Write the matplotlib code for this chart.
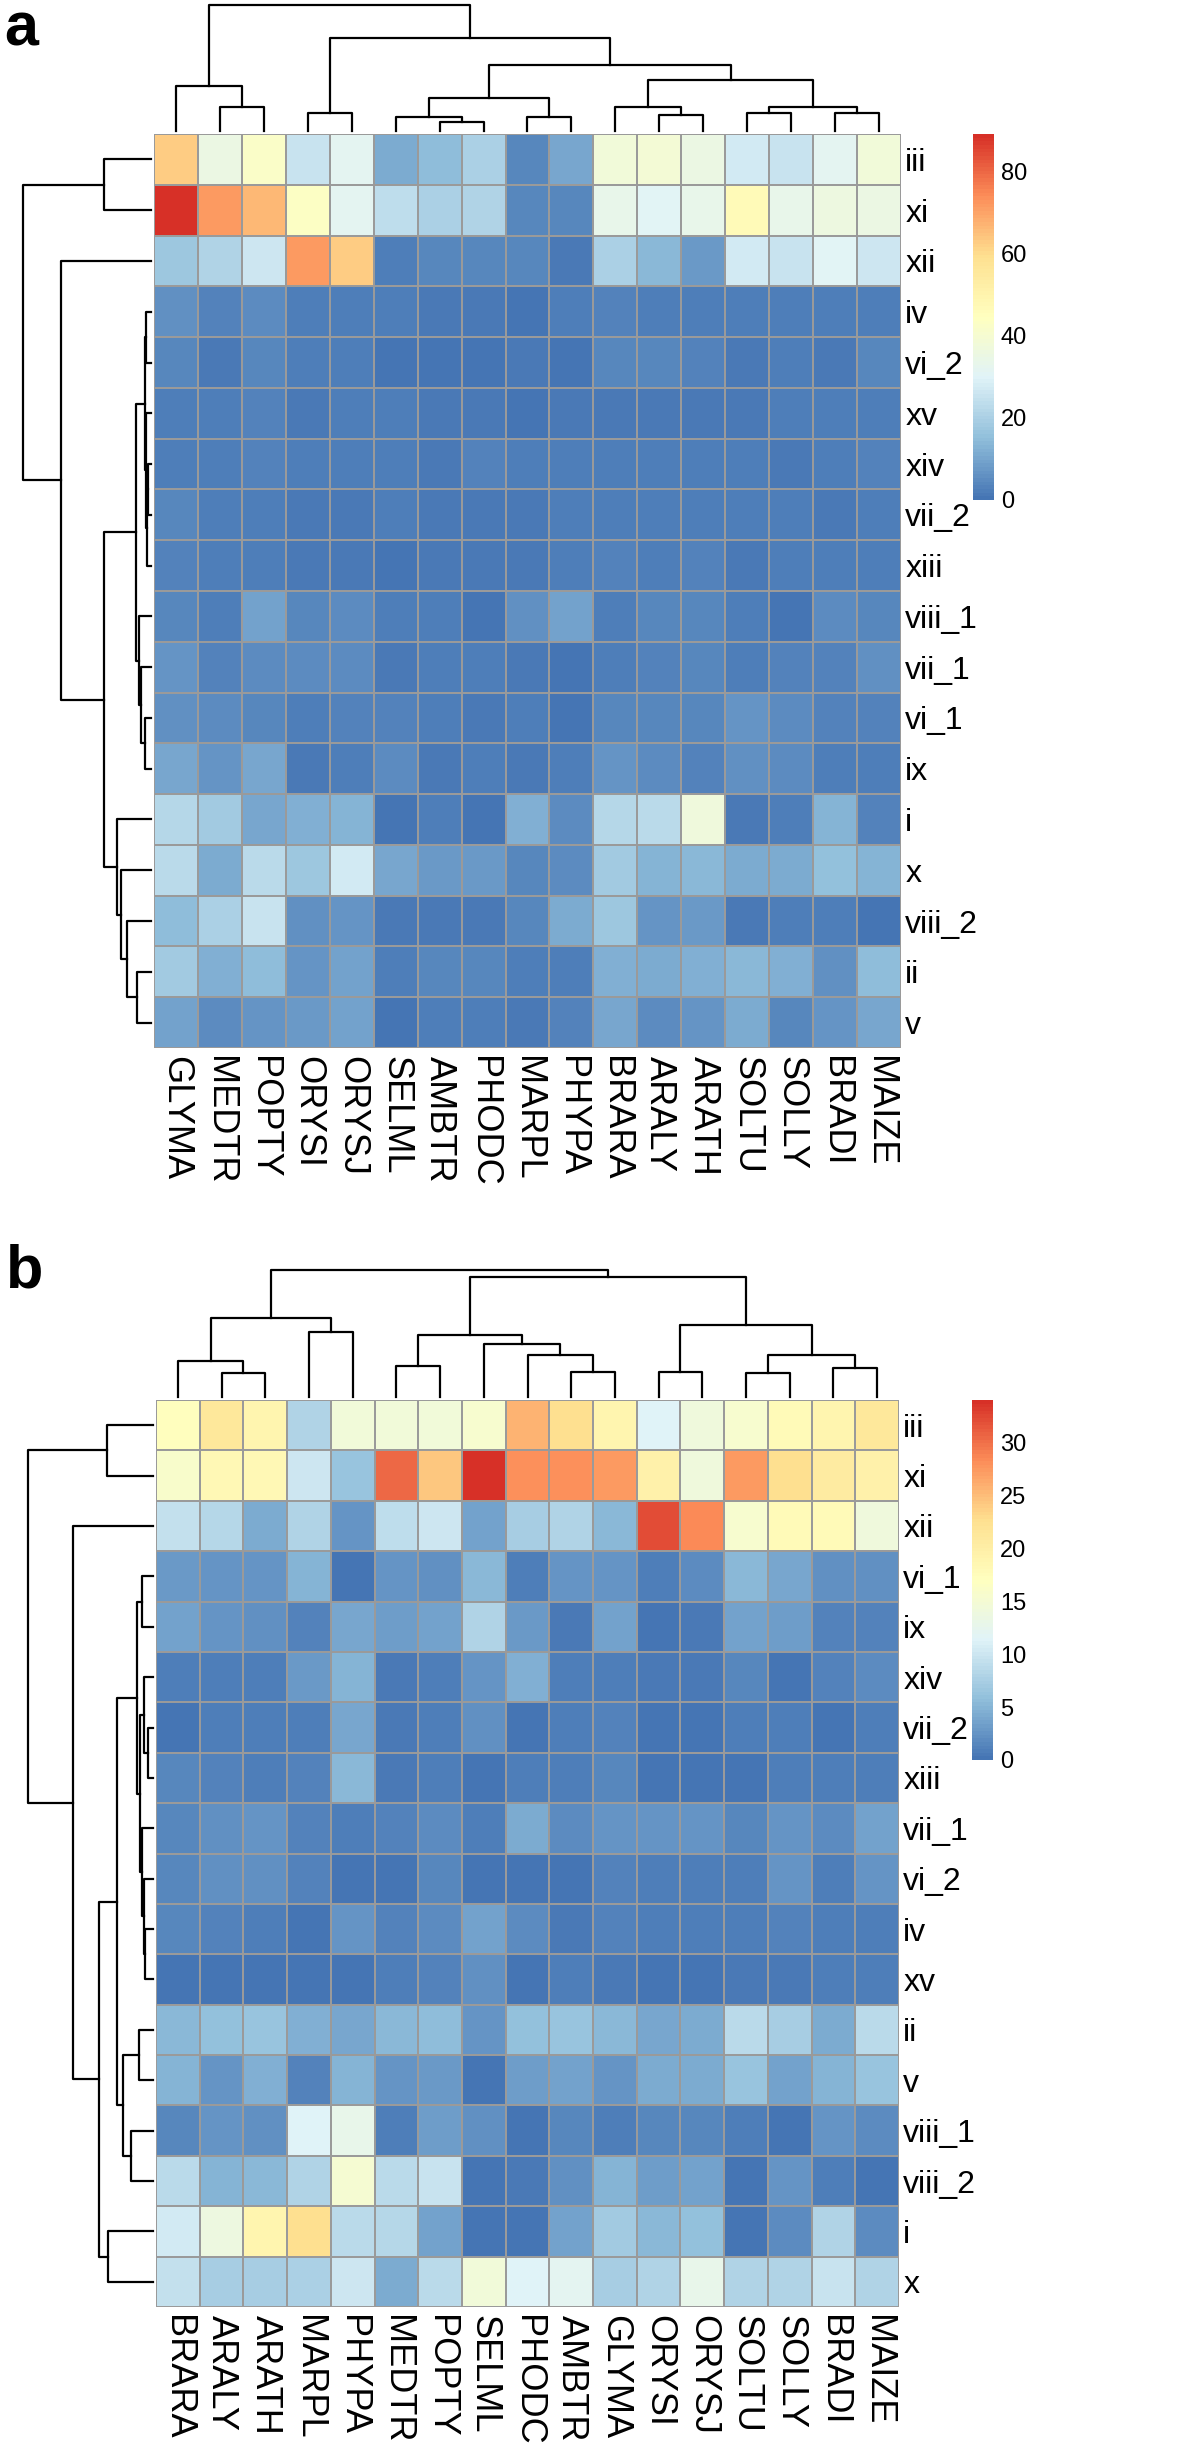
import matplotlib
matplotlib.use("Agg")
import matplotlib.pyplot as plt
import numpy as np
from matplotlib import font_manager
from matplotlib.colors import LinearSegmentedColormap

FIG_W, FIG_H = 1181, 2450

# pheatmap default palette: rev(brewer.pal(7, "RdYlBu")) in 100 steps
PALETTE = ["#4575B4", "#91BFDB", "#E0F3F8", "#FFFFBF", "#FEE090", "#FC8D59", "#D73027"]

# ---- panel a ----
A_COLS = ["GLYMA", "MEDTR", "POPTY", "ORYSI", "ORYSJ", "SELML", "AMBTR", "PHODC", "MARPL",
          "PHYPA", "BRARA", "ARALY", "ARATH", "SOLTU", "SOLLY", "BRADI", "MAIZE"]
A_ROWS = ["iii", "xi", "xii", "iv", "vi_2", "xv", "xiv", "vii_2", "xiii", "viii_1",
          "vii_1", "vi_1", "ix", "i", "x", "viii_2", "ii", "v"]
A_VALUES = [
    [63, 35, 42, 25, 32, 11, 15, 20, 4, 10, 38, 39, 35, 27, 25, 32, 38],
    [89, 72, 66, 43, 32, 24, 20, 21, 4, 4, 33, 31, 33, 47, 33, 36, 35],
    [17, 21, 26, 72, 63, 2, 4, 4, 4, 1, 20, 14, 8, 27, 25, 31, 26],
    [6, 3, 5, 2, 2, 2, 1, 1, 0, 2, 3, 2, 2, 2, 2, 2, 2],
    [4, 1, 4, 2, 2, 0, 0, 0, 1, 0, 4, 4, 3, 1, 2, 1, 4],
    [2, 2, 3, 1, 2, 2, 1, 1, 0, 1, 1, 1, 1, 1, 2, 2, 2],
    [2, 2, 3, 2, 2, 2, 1, 3, 2, 2, 2, 2, 2, 2, 1, 2, 3],
    [4, 2, 2, 1, 1, 2, 1, 1, 1, 2, 2, 2, 2, 2, 2, 1, 2],
    [3, 2, 2, 1, 1, 0, 1, 1, 1, 2, 3, 2, 3, 1, 2, 2, 2],
    [4, 2, 9, 4, 5, 2, 2, 0, 6, 9, 2, 4, 4, 2, 0, 5, 4],
    [7, 3, 5, 5, 5, 1, 2, 2, 1, 0, 2, 3, 4, 2, 3, 3, 6],
    [6, 5, 4, 2, 3, 3, 2, 1, 2, 0, 4, 4, 4, 7, 5, 3, 3],
    [10, 7, 10, 1, 2, 5, 1, 2, 1, 2, 7, 5, 3, 6, 5, 2, 2],
    [22, 18, 10, 12, 13, 0, 2, 0, 12, 5, 22, 23, 37, 1, 2, 13, 3],
    [23, 11, 23, 17, 27, 10, 8, 8, 4, 5, 18, 13, 14, 11, 11, 16, 13],
    [15, 20, 25, 6, 7, 1, 1, 1, 4, 11, 17, 7, 8, 1, 2, 2, 0],
    [18, 12, 15, 7, 9, 2, 4, 4, 2, 2, 12, 11, 12, 14, 12, 6, 15],
    [9, 5, 7, 8, 9, 0, 2, 2, 1, 3, 10, 5, 7, 11, 4, 7, 10],
]
A_TICKS = [0, 20, 40, 60, 80]
# merges: (left, right, height); an int refers to an earlier merge
A_COL_TREE = [
    ("MEDTR", "POPTY", 75), ("GLYMA", 0, 141), ("ORYSI", "ORYSJ", 56),
    ("AMBTR", "PHODC", 28), ("SELML", 3, 45), ("MARPL", "PHYPA", 45), (4, 5, 103),
    ("ARALY", "ARATH", 51), ("BRARA", 7, 75), ("SOLTU", "SOLLY", 56),
    ("BRADI", "MAIZE", 56), (9, 10, 75), (8, 11, 160), (6, 12, 206),
    (2, 13, 291), (1, 14, 393),
]
A_ROW_TREE = [
    ("iii", "xi", 145), ("iv", "vi_2", 14), ("xiv", "vii_2", 8), (2, "xiii", 11),
    ("xv", 3, 16), (1, 4, 18), ("vi_1", "ix", 20), ("vii_1", 6, 30), ("viii_1", 7, 38),
    (5, 8, 45), ("ii", "v", 43), ("viii_2", 10, 75), ("x", 11, 92), ("i", 12, 105),
    (9, 13, 145), ("xii", 14, 278), (0, 15, 397),
]

# ---- panel b ----
B_COLS = ["BRARA", "ARALY", "ARATH", "MARPL", "PHYPA", "MEDTR", "POPTY", "SELML", "PHODC",
          "AMBTR", "GLYMA", "ORYSI", "ORYSJ", "SOLTU", "SOLLY", "BRADI", "MAIZE"]
B_ROWS = ["iii", "xi", "xii", "vi_1", "ix", "xiv", "vii_2", "xiii", "vii_1", "vi_2",
          "iv", "xv", "ii", "v", "viii_1", "viii_2", "i", "x"]
B_VALUES = [
    [17, 21.4, 19, 8, 14.3, 14.6, 14.6, 15.5, 25.6, 22.5, 19, 11.4, 14.2, 15.5, 17.9, 19, 21.4],
    [15.9, 18.3, 18.3, 10, 6.2, 30.4, 24.3, 34, 28, 28, 27.5, 19.6, 14.2, 27.5, 22.7, 20.7, 19.6],
    [9.2, 8.3, 4.4, 8.1, 2.4, 9, 10, 3.7, 7.3, 8, 5.4, 32, 28.3, 15.5, 17.9, 17.9, 14.2],
    [2.8, 2.7, 2.4, 4.9, 0, 2.5, 2.2, 5.2, 1, 2.4, 2.4, 0.8, 1.8, 5.2, 3.9, 2.2, 2.2],
    [3.6, 2.7, 2.2, 1.3, 3.9, 3.1, 3.6, 8, 3, 0.6, 3.5, 0.1, 0.6, 3.6, 3.1, 1.3, 1.3],
    [1, 0.9, 0.9, 3, 4.8, 0.6, 1, 2.4, 4.6, 0.8, 0.8, 0.6, 0.6, 1.4, 0, 1.3, 1.8],
    [0.2, 0.8, 0.8, 1, 3.9, 0.6, 0.8, 2.2, 0.1, 0.8, 1.3, 0.1, 0.1, 0.8, 0.8, 0, 0.8],
    [1.4, 1.2, 1, 1.2, 5.2, 0.6, 0.8, 0, 1, 1, 1.4, 0.1, 0.1, 0.1, 0.8, 0.8, 0.8],
    [1.4, 2.2, 2.4, 1.2, 0.8, 1.2, 1.8, 0.8, 4.4, 1.8, 2.4, 2.4, 2.4, 1.4, 2.7, 1.8, 3.5],
    [1.4, 2.2, 2.2, 1.2, 0, 0.2, 1.4, 0, 0.1, 0, 1.3, 1, 1, 0.8, 2.4, 0.8, 2.4],
    [1.4, 1.2, 1, 0, 2.4, 1.2, 1.8, 3.6, 2, 0.6, 1.3, 0.8, 0.8, 1, 1.3, 1, 1],
    [0, 0.1, 0.3, 0, 0, 0.8, 1.2, 2.2, 0, 0.8, 0.6, 0.1, 0.3, 0.6, 0.6, 1, 1],
    [5.2, 5.9, 6.4, 4.6, 3.9, 5.4, 5.6, 2.4, 5.9, 6.4, 5.4, 3.9, 4.4, 8.8, 7.3, 4.2, 8.8],
    [5, 2.7, 4.6, 1.2, 4.9, 2.4, 3, 0, 3.1, 3.6, 2.7, 4.4, 4.2, 6.4, 3.6, 4.9, 6.4],
    [1.4, 2.7, 2.2, 11.4, 12.8, 0.7, 3.1, 2.2, 0, 1.4, 1, 1.6, 1.6, 0.8, 0, 2.4, 1.8],
    [8.8, 4.9, 5.2, 8, 15, 8.8, 9.8, 0.3, 0.6, 2.2, 4.8, 3.1, 3.6, 0.1, 2.4, 1, 0.1],
    [10.4, 13.9, 19, 22.7, 8.8, 8.3, 3.6, 0.1, 0.1, 3.5, 7, 5.4, 5.9, 0.1, 1.8, 8, 1.8],
    [9.4, 7.3, 7.3, 7.5, 10.1, 4.4, 8.8, 14.3, 11.4, 11.9, 7.3, 8.1, 12.8, 8, 8, 9.6, 8],
]
B_TICKS = [0, 5, 10, 15, 20, 25, 30]
B_COL_TREE = [
    ("ARALY", "ARATH", 73), ("BRARA", 0, 111), ("MARPL", "PHYPA", 201), (1, 2, 243),
    ("MEDTR", "POPTY", 95), ("AMBTR", "GLYMA", 78), ("PHODC", 5, 130), ("SELML", 6, 163),
    (4, 7, 191), ("ORYSI", "ORYSJ", 78), ("SOLTU", "SOLLY", 73), ("BRADI", "MAIZE", 88),
    (10, 11, 130), (9, 12, 221), (8, 13, 368), (3, 14, 391),
]
B_ROW_TREE = [
    ("iii", "xi", 148), ("vi_1", "ix", 35), ("vii_2", "xiii", 15), ("xiv", 2, 28),
    ("iv", "xv", 25), ("vi_2", 4, 28), ("vii_1", 5, 35), (3, 6, 40), (1, 7, 52),
    ("ii", "v", 45), ("viii_1", "viii_2", 70), (9, 10, 97), (8, 11, 115),
    ("i", "x", 142), (12, 13, 172), ("xii", 14, 255), (0, 15, 398),
]

_names = {f.name for f in font_manager.fontManager.ttflist}
SANS = "Liberation Sans" if "Liberation Sans" in _names else "DejaVu Sans"
NARROW = "Liberation Sans Narrow" if "Liberation Sans Narrow" in _names else SANS


def px_axes(fig, left, top, right, bottom):
    return fig.add_axes([left / FIG_W, 1 - bottom / FIG_H,
                         (right - left) / FIG_W, (bottom - top) / FIG_H])


def tree_segments(tree, order):
    pos = {name: i + 0.5 for i, name in enumerate(order)}
    merged, segs = [], []
    for left, right, h in tree:
        p1, h1 = (pos[left], 0.0) if isinstance(left, str) else merged[left]
        p2, h2 = (pos[right], 0.0) if isinstance(right, str) else merged[right]
        segs.append(([p1, p1, p2, p2], [h1, h, h, h2]))
        merged.append(((p1 + p2) / 2, h))
    return segs


def draw_col_tree(fig, box, tree, order):
    ax = px_axes(fig, *box)
    for ps, hs in tree_segments(tree, order):
        ax.plot(ps, hs, color="black", lw=1.6, clip_on=False, solid_capstyle="projecting")
    ax.set_xlim(0, len(order))
    ax.set_ylim(0, max(t[2] for t in tree))
    ax.axis("off")


def draw_row_tree(fig, box, tree, order):
    ax = px_axes(fig, *box)
    for ps, hs in tree_segments(tree, order):
        ax.plot(hs, ps, color="black", lw=1.6, clip_on=False, solid_capstyle="projecting")
    ax.set_ylim(len(order), 0)
    ax.set_xlim(max(t[2] for t in tree), 0)
    ax.axis("off")


def draw_heatmap(fig, box, values, rows, cols, cmap):
    ax = px_axes(fig, *box)
    data = np.array(values, dtype=float)
    mesh = ax.pcolormesh(data, cmap=cmap, vmin=0, vmax=data.max(),
                         edgecolors="#9a9a9a", linewidth=1.3)
    ax.set_xlim(0, len(cols))
    ax.set_ylim(len(rows), 0)
    ax.set_xticks(np.arange(len(cols)) + 0.5)
    ax.set_xticklabels(cols, rotation=270, fontsize=26, family=SANS)
    ax.set_yticks(np.arange(len(rows)) + 0.5)
    ax.set_yticklabels(rows, fontsize=23, family=NARROW)
    ax.yaxis.tick_right()
    ax.tick_params(axis="x", length=0, pad=6)
    ax.tick_params(axis="y", length=0, pad=3)
    for s in ax.spines.values():
        s.set_visible(False)
    return mesh


def draw_legend(fig, box, mesh, ticks):
    cax = px_axes(fig, *box)
    cb = fig.colorbar(mesh, cax=cax, ticks=ticks)
    cb.outline.set_visible(False)
    cax.tick_params(length=0, pad=5, labelsize=17)
    for lab in cax.get_yticklabels():
        lab.set_family(NARROW)


def main():
    cmap = LinearSegmentedColormap.from_list("pheat", PALETTE, N=100)
    fig = plt.figure(figsize=(FIG_W / 100, FIG_H / 100), dpi=100)

    mesh = draw_heatmap(fig, (154, 134, 901, 1048), A_VALUES, A_ROWS, A_COLS, cmap)
    draw_col_tree(fig, (154, 5, 901, 131), A_COL_TREE, A_COLS)
    draw_row_tree(fig, (23, 134, 151, 1048), A_ROW_TREE, A_ROWS)
    draw_legend(fig, (973, 134, 994, 500), mesh, A_TICKS)

    mesh = draw_heatmap(fig, (156, 1400, 899, 2307), B_VALUES, B_ROWS, B_COLS, cmap)
    draw_col_tree(fig, (156, 1270, 899, 1397), B_COL_TREE, B_COLS)
    draw_row_tree(fig, (28, 1400, 153, 2307), B_ROW_TREE, B_ROWS)
    draw_legend(fig, (972, 1400, 993, 1760), mesh, B_TICKS)

    fig.text(4 / FIG_W, 1 - 2 / FIG_H, "a", fontsize=44, fontweight="bold",
             family=SANS, ha="left", va="top")
    fig.text(6 / FIG_W, 1 - 1244 / FIG_H, "b", fontsize=44, fontweight="bold",
             family=SANS, ha="left", va="top")

    fig.savefig("out.png", dpi=100)


if __name__ == "__main__":
    main()
